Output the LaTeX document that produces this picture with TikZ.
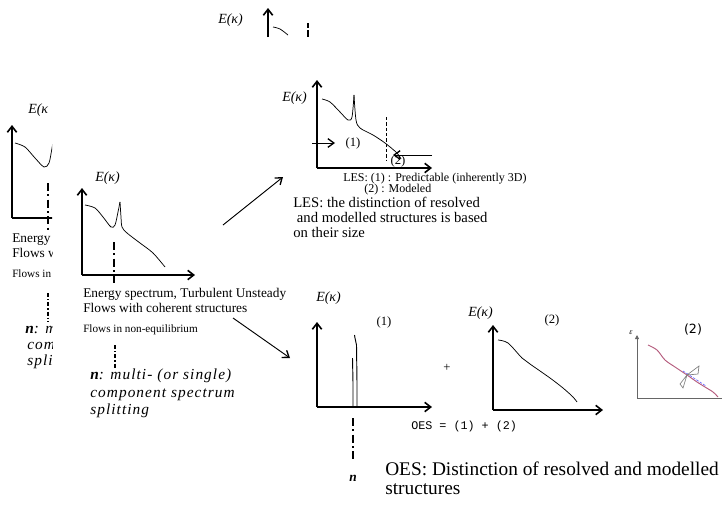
\documentclass[tikz,border=0pt]{standalone}
\usepackage{fontspec}
\setmainfont{Liberation Serif}
\newfontfamily\nfont{Liberation Serif}[LetterSpace=7]
\newfontfamily\dvsans{DejaVu Sans}
\newfontfamily\lmono{Liberation Mono}
\usetikzlibrary{arrows.meta}
\definecolor{curvered}{HTML}{B45A7C}
\begin{document}
\begin{tikzpicture}[x=0.75pt,y=-0.75pt,
  axis/.style={line width=1.1pt,-{Straight Barb[length=4.5pt,width=7pt,line width=1.2pt]}},
  axisline/.style={line width=1.1pt},
  curve/.style={line width=0.55pt},
  conn/.style={line width=0.7pt,-{Straight Barb[length=4.5pt,width=6.5pt,line width=1pt]}},
  thickdd/.style={line width=2.2pt,dash pattern=on 6pt off 2.5pt on 1.5pt off 2.5pt},
  thindd/.style={line width=1pt,dash pattern=on 3pt off 1.5pt on 1pt off 1.5pt},
  txt/.style={inner sep=0pt,anchor=base west,font=\fontsize{10pt}{12pt}\selectfont},
  smalltxt/.style={inner sep=0pt,anchor=base west,font=\fontsize{8.4pt}{10pt}\selectfont},
  ntxt/.style={inner sep=0pt,anchor=base west,font=\nfont\itshape\fontsize{11.5pt}{13pt}\selectfont},
  elab/.style={inner sep=0pt,anchor=west,font=\itshape\fontsize{10.5pt}{12pt}\selectfont},
  numlab/.style={inner sep=0pt,font=\fontsize{9.5pt}{11pt}\selectfont},
]
\useasboundingbox (0,0) rectangle (724,507);

% ---------- top fragment ----------
\node[elab] (tE) at (218,20) {E(κ)};
\draw[axis] (268,37) -- (268,8);
\draw[curve] plot[smooth] coordinates {(273,27) (280,29) (288,35)};
\draw[line width=1.6pt] (308,30) -- (308,37);
\draw[line width=0.8pt] (308,23) -- (308,28);

% ---------- left clipped fragment ----------
\begin{scope}
\clip (0,0) rectangle (52,507);
\node[elab] (lE) at (28,110) {E(κ};
\draw[axis] (12,218) -- (12,125);
\draw[axisline] (12,218) -- (70,218);
\draw[curve] plot[smooth] coordinates {(15,143) (25,147) (35,158) (44,167) (49,163) (52,148) (54,135)};
\draw[thickdd] (48,183) -- (48,230);
\node[txt] (l1) at (12,242) {Energy};
\node[txt] (l2) at (12,257) {Flows w};
\node[smalltxt] (l3) at (12,277) {Flows in};
\draw[thindd] (48,293) -- (48,322);
\node[ntxt] (l4) at (25,333) {\textbf{n}: m};
\node[ntxt] (l5) at (27,349) {comp};
\node[ntxt] (l6) at (27,365) {split};
\end{scope}

% ---------- middle panel ----------
\node[elab] (mE) at (95,178) {E(κ)};
\draw[axis] (82,275) -- (82,188);
\draw[axis] (82,275) -- (195,275);
\draw[curve] plot[smooth] coordinates {(85,205) (95,208) (103,217) (111,227) (115,225) (118,212) (120,202)};
\draw[curve] plot[smooth] coordinates {(120,202) (121,217) (122,227) (127,233) (140,243) (153,253) (165,267)};
\draw[thickdd] (114,242) -- (114,285);
\node[txt] (m1) at (83,297) {Energy spectrum, Turbulent Unsteady};
\node[txt] (m2) at (83,312) {Flows with coherent structures};
\node[smalltxt] (m3) at (83,332) {Flows in non-equilibrium};
\draw[thindd] (115,345) -- (115,368);
\node[ntxt] (m4) at (90,379) {\textbf{n}: multi- (or single)};
\node[ntxt] (m5) at (90,397) {component spectrum};
\node[ntxt] (m6) at (90,414) {splitting};

% connectors
\coordinate (c1s) at (223,225);
\coordinate (c1e) at (283,177);
\draw[conn] (c1s) -- (c1e);
\coordinate (c2s) at (233,318);
\coordinate (c2e) at (290,358);
\draw[conn] (c2s) -- (c2e);

% ---------- LES panel ----------
\node[elab] (lesE) at (282,98) {E(κ)};
\draw[axis] (317,168) -- (317,80);
\draw[axis] (317,168) -- (432,168);
\draw[curve] plot[smooth] coordinates {(322,99) (330,102) (340,112) (348,120) (352,117) (354,95)};
\draw[curve] plot[smooth] coordinates {(354,95) (356,120) (360,128) (373,135) (385,143) (397,153) (401,159)};
\draw[line width=0.6pt,dash pattern=on 2.5pt off 1.5pt] (386,117) -- (386,160);
\coordinate (ar1s) at (312,143);
\coordinate (ar1e) at (335,143);
\draw[conn] (ar1s) -- (ar1e);
\node[numlab] (les1) at (353,143) {(1)};
\coordinate (ar2s) at (432,155);
\coordinate (ar2e) at (393,155);
\draw[conn] (ar2s) -- (ar2e);
\node[numlab] (les2) at (398,161) {(2)};
\node[inner sep=0pt,anchor=base west,font=\fontsize{9pt}{10pt}\selectfont] (lest1) at (343,181) {LES: (1) : Predictable (inherently 3D)};
\node[inner sep=0pt,anchor=base west,font=\fontsize{9pt}{10pt}\selectfont] (lest2) at (364,192) {(2) : Modeled};
\node[inner sep=0pt,anchor=base west,font=\fontsize{11pt}{13pt}\selectfont] (lest3) at (293,207) {LES: the distinction of resolved};
\node[inner sep=0pt,anchor=base west,font=\fontsize{11pt}{13pt}\selectfont] (lest4) at (293,222) {\ and modelled structures is based};
\node[inner sep=0pt,anchor=base west,font=\fontsize{11pt}{13pt}\selectfont] (lest5) at (293,237) {on their size};

% ---------- lower panel (1) ----------
\node[elab] (o1E) at (316,298) {E(κ)};
\draw[axis] (317,407) -- (317,322);
\draw[axis] (317,407) -- (432,407);
\draw[line width=0.7pt] (353,407) -- (353,383) -- (352.5,358);
\draw[line width=0.7pt] (357,407) -- (357,383) -- (356.5,345) -- (355,338) -- (354.5,335);
\node[numlab] (o1l) at (384,322) {(1)};
\node[numlab] (plus) at (447,368) {+};
\draw[thickdd] (353,418) -- (353,462);
\node[inner sep=0pt,font=\bfseries\itshape\fontsize{10pt}{12pt}\selectfont] (nlab) at (353,478) {n};

% ---------- lower panel (2) ----------
\node[elab] (o2E) at (468,313) {E(κ)};
\draw[axis] (493,410) -- (493,325);
\draw[axis] (493,410) -- (603,410);
\draw[curve] plot[smooth] coordinates {(498,340) (508,343) (522,358) (530,364) (550,378) (563,388) (573,397) (577,402)};
\node[numlab] (o2l) at (552,320) {(2)};
\node[inner sep=0pt,anchor=base west,font=\lmono\fontsize{8.8pt}{10pt}\selectfont] (oes) at (411,429) {OES = (1) + (2)};

% ---------- right small panel ----------
\node[inner sep=0pt,font=\dvsans\fontsize{9.5pt}{11pt}\selectfont] (r2) at (693,330) {(2)};
\node[inner sep=0pt,font=\itshape\fontsize{6pt}{7pt}\selectfont] (rE) at (631,333) {ε};
\draw[gray!80!black,line width=0.6pt,-{Triangle[length=3pt,width=3pt]}] (637,398) -- (637,335);
\draw[gray!80!black,line width=0.6pt] (637,398) -- (722,398);
\draw[curvered,line width=0.7pt] plot[smooth] coordinates {(648,345) (657,350) (665,360) (675,367) (687,375) (697,382) (705,387) (713,392) (718,397)};
\draw[blue!60,line width=0.5pt,dash pattern=on 2pt off 1pt] (683,371) -- (706,386);
\draw[gray,line width=0.5pt] (687,375) -- (699,366) -- (698,374) -- cycle;
\draw[gray,line width=0.5pt] (687,375) -- (680,384) -- (683,388) -- cycle;

% ---------- OES caption ----------
\node[inner sep=0pt,anchor=base west,font=\fontsize{14.5pt}{17pt}\selectfont] (oc1) at (385,475) {OES: Distinction of resolved and modelled};
\node[inner sep=0pt,anchor=base west,font=\fontsize{14.5pt}{17pt}\selectfont] (oc2) at (385,494) {structures};
\end{tikzpicture}
\end{document}
